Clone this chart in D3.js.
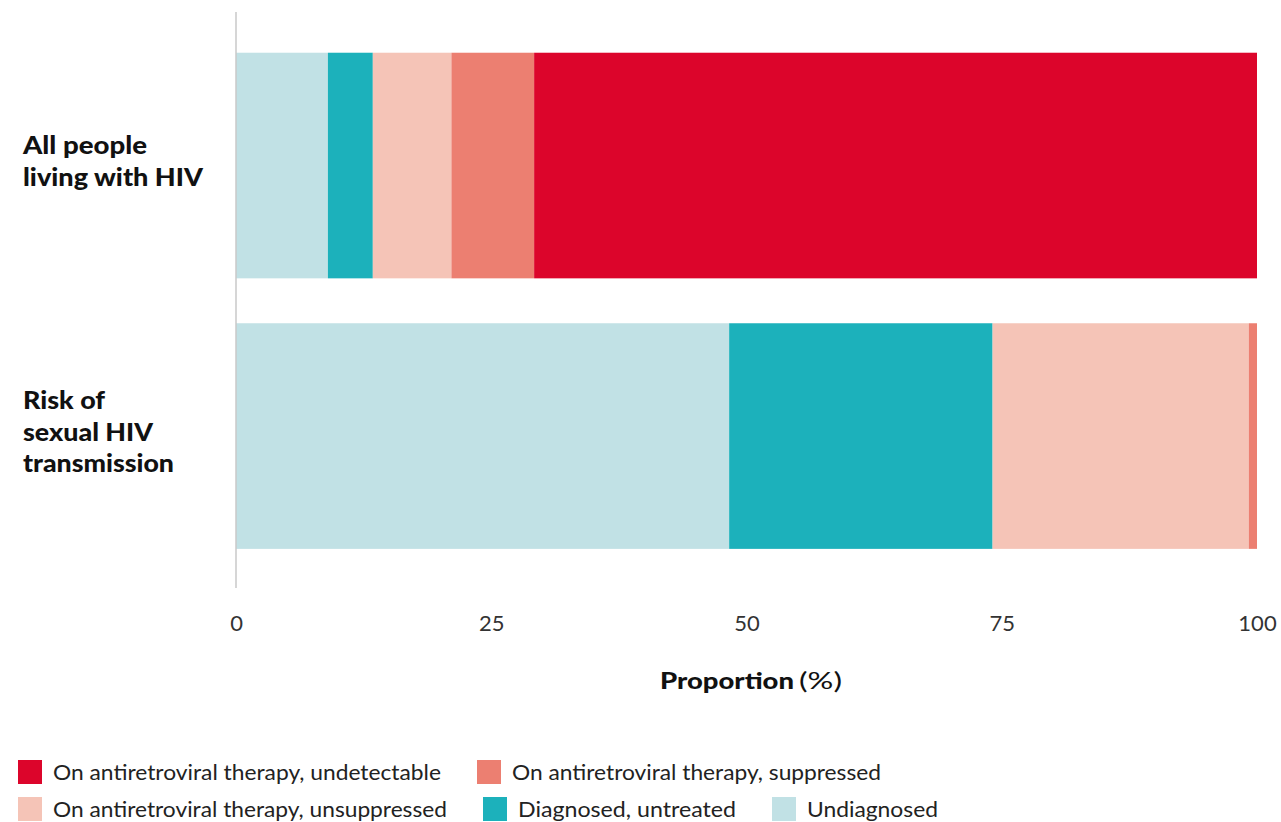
<!DOCTYPE html>
<html>
<head>
<meta charset="utf-8">
<script src="https://cdn.jsdelivr.net/npm/d3@7"></script>
<style>
  html, body { margin: 0; padding: 0; background: #fff; }
  svg { display: block; }
</style>
</head>
<body>
<div id="chart"></div>
<script>
// ---- Data ----
const categories = ["All people living with HIV", "Risk of sexual HIV transmission"];
const categoryLines = [["All people", "living with HIV"], ["Risk of", "sexual HIV", "transmission"]];
const seriesNames = ["Undiagnosed", "Diagnosed, untreated", "On antiretroviral therapy, unsuppressed",
                     "On antiretroviral therapy, suppressed", "On antiretroviral therapy, undetectable"];
const undiagnosed   = [9.0, 48.3];
const untreated     = [4.4, 25.8];
const unsuppressed  = [7.7, 25.1];
const suppressed    = [8.1, 0.8];
const undetectable  = [70.8, 0.0];
const xTicks = [0, 25, 50, 75, 100];
const legendOrder = [
  ["On antiretroviral therapy, undetectable", "On antiretroviral therapy, suppressed"],
  ["On antiretroviral therapy, unsuppressed", "Diagnosed, untreated", "Undiagnosed"]
];

// ---- Style ----
const colors = {
  "Undiagnosed": "#c1e1e5",
  "Diagnosed, untreated": "#1cb1bb",
  "On antiretroviral therapy, unsuppressed": "#f5c4b7",
  "On antiretroviral therapy, suppressed": "#ec7f71",
  "On antiretroviral therapy, undetectable": "#dc052b"
};
const W = 1281, H = 822;
const svg = d3.select("#chart").append("svg").attr("width", W).attr("height", H);

const x = d3.scaleLinear().domain([0, 100]).range([236, 1257]);
const y = d3.scaleBand().domain(categories).range([12, 588])
  .paddingInner(0.166).paddingOuter(0.1476).align(0.51);

const valuesBySeries = [undiagnosed, untreated, unsuppressed, suppressed, undetectable];
const rows = categories.map((c, i) => {
  const r = { category: c };
  seriesNames.forEach((s, j) => r[s] = valuesBySeries[j][i]);
  return r;
});
const stack = d3.stack().keys(seriesNames)(rows);

svg.append("g").selectAll("g").data(stack).join("g")
  .attr("fill", d => colors[d.key])
  .selectAll("rect").data(d => d).join("rect")
  .attr("x", d => x(d[0]))
  .attr("width", d => Math.max(0, x(d[1]) - x(d[0])))
  .attr("y", d => y(d.data.category))
  .attr("height", y.bandwidth());

// axis line (vertical at 0)
svg.append("line")
  .attr("x1", x(0)).attr("x2", x(0)).attr("y1", 12).attr("y2", 588)
  .attr("stroke", "#c8c8c8").attr("stroke-width", 1.5);

// x axis
const xAxis = svg.append("g").attr("transform", "translate(0,631)")
  .call(d3.axisBottom(x).tickValues(xTicks).tickSize(0).tickPadding(0));
xAxis.select(".domain").remove();
xAxis.selectAll("text")
  .attr("dy", 0).attr("y", 0)
  .attr("font-family", "Lato, 'Open Sans', sans-serif")
  .attr("font-size", 22).attr("fill", "#333");

// axis title
const title = svg.append("text").attr("x", 660).attr("y", 689)
  .attr("font-family", "Lato, sans-serif").attr("font-size", 23).attr("fill", "#111");
title.append("tspan").attr("font-weight", 900)
  .attr("textLength", 134).attr("lengthAdjust", "spacingAndGlyphs").text("Proportion");
title.append("tspan").attr("font-weight", 400).attr("x", 799)
  .attr("textLength", 43).attr("lengthAdjust", "spacingAndGlyphs").text("(%)");

// category labels
const labelWidths = [[124, 180], [82, 130, 151]];
categories.forEach((c, i) => {
  const lines = categoryLines[i];
  const cy = y(c) + y.bandwidth() / 2;
  lines.forEach((ln, k) => {
    svg.append("text")
      .attr("x", 23)
      .attr("y", cy + (k - (lines.length - 1) / 2) * 31.5 + 4.5)
      .attr("font-family", "Lato, sans-serif").attr("font-weight", 900)
      .attr("font-size", 24).attr("fill", "#111")
      .attr("textLength", labelWidths[i][k]).attr("lengthAdjust", "spacingAndGlyphs")
      .text(ln);
  });
});

// legend
const legendWidths = {
  "On antiretroviral therapy, undetectable": 388,
  "On antiretroviral therapy, suppressed": 369,
  "On antiretroviral therapy, unsuppressed": 394,
  "Diagnosed, untreated": 218,
  "Undiagnosed": 131
};
const rowY = [760, 797];
legendOrder.forEach((row, r) => {
  let cx = 18;
  row.forEach(name => {
    svg.append("rect").attr("x", cx).attr("y", rowY[r]).attr("width", 24).attr("height", 24)
      .attr("fill", colors[name]);
    svg.append("text").attr("x", cx + 35).attr("y", rowY[r] + 20)
      .attr("font-family", "Lato, sans-serif").attr("font-size", 21).attr("fill", "#222")
      .attr("textLength", legendWidths[name]).attr("lengthAdjust", "spacingAndGlyphs")
      .text(name);
    cx += 35 + legendWidths[name] + 36;
  });
});
</script>
</body>
</html>
